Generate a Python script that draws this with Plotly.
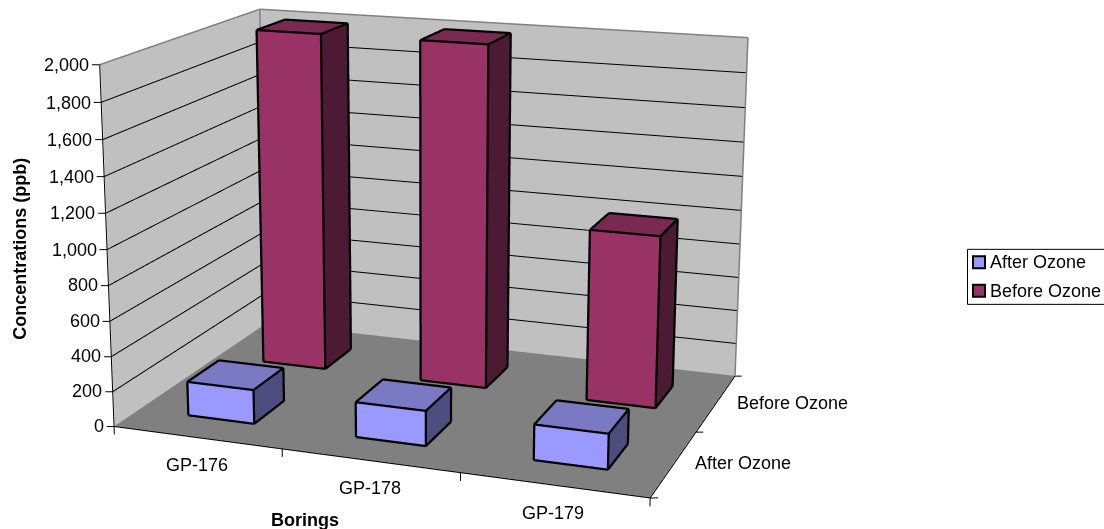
import numpy as np
import plotly.graph_objects as go

categories = ["GP-176", "GP-178", "GP-179"]
series = ["After Ozone", "Before Ozone"]
after_ozone = [195, 198, 197]
before_ozone = [1998, 1998, 995]
z_ticks = [0, 200, 400, 600, 800, 1000, 1200, 1400, 1600, 1800, 2000]
z_title = "Concentrations (ppb)"
x_title = "Borings"

FONT = "Liberation Sans"
FS = 18
W, H_S = 1104, 1741.5       # the scene is tall so that plotly's fixed 45 degree lens acts as a long lens
CX, CY = 434.9, 217.18      # where the scene centre has to land in the window
SHIFT = H_S / 2 - CY

colors = {
    series[0]: dict(front="#9999FF", top="#7A7AC4", side="#4D4D80"),
    series[1]: dict(front="#993366", top="#7A2952", side="#4D1A33"),
}
WALL, FLOOR, GREY = "#C0C0C0", "#808080", "#808080"

# scene ranges (a little wider than the plot box, so that the tick stubs are not clipped)
XR, YR, ZR = (-0.1, 3.2), (-0.1, 2.1), (-100, 2100)
BASE_ASPECT = np.array([1.5009, 1.0008, 1.0])
BASE_SPAN = np.array([3.0, 2.0, 2000.0])
BASE_MID = np.array([1.5, 1.0, 1000.0])
lo = np.array([XR[0], YR[0], ZR[0]]); hi = np.array([XR[1], YR[1], ZR[1]])
unit = BASE_ASPECT / BASE_SPAN
aspect = unit * (hi - lo)
off = (BASE_MID - (lo + hi) / 2) * unit
eye = np.array([1.9196, -5.298, 1.4879])
look = np.array([-70.5433, 194.5369, -53.3139]) - eye
look = look / np.linalg.norm(look)
up = np.array([-1.0505, 2.8935, 1.0])
right = np.cross(look, up); right /= np.linalg.norm(right)
up = np.cross(right, look)
center = eye + look * 6.0
# lines are pulled a hair toward the camera, along the view axis, so faces do not swallow them
NUDGE = -look * 0.012 / unit

fig = go.Figure()


def lines(segs, color, width):
    xs, ys, zs = [], [], []
    for a, b in segs:
        xs += [a[0] + NUDGE[0], b[0] + NUDGE[0], None]
        ys += [a[1] + NUDGE[1], b[1] + NUDGE[1], None]
        zs += [a[2] + NUDGE[2], b[2] + NUDGE[2], None]
    fig.add_trace(go.Scatter3d(x=xs, y=ys, z=zs, mode="lines", line=dict(color=color, width=width),
                               hoverinfo="skip", showlegend=False))


# walls and floor
fig.add_trace(go.Mesh3d(
    x=[0, 3, 3, 0, 0, 3, 3, 0], y=[0, 0, 2, 2, 0, 0, 2, 2], z=[0, 0, 0, 0, 2000, 2000, 2000, 2000],
    i=[0, 0, 0, 0, 3, 3], j=[1, 2, 3, 7, 2, 6], k=[2, 3, 7, 4, 6, 7],
    facecolor=[FLOOR, FLOOR, WALL, WALL, WALL, WALL], flatshading=True,
    lighting=dict(ambient=1, diffuse=0, specular=0, roughness=1, fresnel=0), hoverinfo="skip", showlegend=False))

grid = []
for v in z_ticks[1:-1]:
    grid += [((0, 0, v), (0, 2, v)), ((0, 2, v), (3, 2, v))]
lines(grid, "#000000", 2)
lines([((0, 0, 2000), (0, 2, 2000)), ((0, 2, 2000), (3, 2, 2000)), ((0, 2, 0), (0, 2, 2000)), ((3, 2, 0), (3, 2, 2000))], GREY, 3)

axis_segs = [((0, 0, 0), (0, 0, 2000)), ((0, 0, 0), (3, 0, 0)), ((3, 0, 0), (3, 2, 0))]
axis_segs += [((0, 0, v), (-0.037, -0.0143, v)) for v in z_ticks]
axis_segs += [((i, 0, 0), (i, 0, -45)) for i in range(4)]
axis_segs += [((3, j, 0), (3.037, j + 0.0143, 0)) for j in range(3)]
lines(axis_segs, "#000000", 2)

# bars
GAP = 0.3
for row, (name, values) in enumerate(zip(series, [after_ozone, before_ozone])):
    c = colors[name]
    vx, vy, vz, I, J, K, fc, segs = [], [], [], [], [], [], [], []
    for col, h in enumerate(values):
        x0, x1, y0, y1 = col + GAP, col + 1 - GAP, row + GAP, row + 1 - GAP
        n = len(vx)
        vx += [x0, x1, x1, x0, x0, x1, x1, x0]
        vy += [y0, y0, y1, y1, y0, y0, y1, y1]
        vz += [0, 0, 0, 0, h, h, h, h]
        quads = [((0, 1, 5, 4), c["front"]), ((4, 5, 6, 7), c["top"]), ((1, 2, 6, 5), c["side"])]
        for q, col_ in quads:
            I += [n + q[0], n + q[0]]; J += [n + q[1], n + q[2]]; K += [n + q[2], n + q[3]]; fc += [col_, col_]
        p = [(vx[n + t], vy[n + t], vz[n + t]) for t in range(8)]
        for a, b in [(0, 1), (1, 2), (4, 5), (5, 6), (6, 7), (7, 4), (0, 4), (1, 5), (2, 6)]:
            segs.append((p[a], p[b]))
    fig.add_trace(go.Mesh3d(x=vx, y=vy, z=vz, i=I, j=J, k=K, facecolor=fc, flatshading=True, name=name,
                            lighting=dict(ambient=1, diffuse=0, specular=0, roughness=1, fresnel=0),
                            hoverinfo="skip", showlegend=False))
    lines(segs, "#000000", 4.5)

font = dict(family=FONT, size=FS, color="#000000")
ann3d = []
for v in z_ticks:
    ann3d.append(dict(x=0, y=0, z=v, text=f"{v:,}", showarrow=False, xanchor="right", xshift=-9, font=font))
for i, t in enumerate(categories):
    ann3d.append(dict(x=i + 0.5, y=0, z=0, text=t, showarrow=False, xanchor="center", yshift=-28, font=font))
for j, t in enumerate(series):
    ann3d.append(dict(x=3, y=j + 0.5, z=0, text=t, showarrow=False, xanchor="left", xshift=20, font=font))


def px(x):
    return x / W


def py(y):
    return 1 - (y + SHIFT) / H_S


annotations = [
    dict(xref="paper", yref="paper", x=px(20), y=py(249), text=f"<b>{z_title}</b>", textangle=-90, showarrow=False,
         xanchor="center", yanchor="middle", font=font),
    dict(xref="paper", yref="paper", x=px(305), y=py(520), text=f"<b>{x_title}</b>", showarrow=False,
         xanchor="center", yanchor="middle", font=font),
]
shapes = [dict(type="rect", xref="paper", yref="paper", x0=px(967.5), x1=px(1106), y0=py(249.5), y1=py(304.5),
               line=dict(color="#000000", width=1), fillcolor="#FFFFFF", layer="above")]
for yc, name in zip((262.5, 291), series):
    shapes.append(dict(type="rect", xref="paper", yref="paper", x0=px(973), x1=px(985), y0=py(yc - 6), y1=py(yc + 6),
                       line=dict(color="#000000", width=2), fillcolor=colors[name]["front"], layer="above"))
    annotations.append(dict(xref="paper", yref="paper", x=px(987.5), y=py(yc), text=name, showarrow=False,
                            xanchor="left", yanchor="middle", font=font))

fig.update_layout(
    width=W, height=H_S, margin=dict(l=0, r=0, t=0, b=0, pad=0), autosize=False,
    paper_bgcolor="#FFFFFF", showlegend=False, shapes=shapes, annotations=annotations,
    scene=dict(
        domain=dict(x=[0, 2 * CX / W], y=[0, 1]), aspectmode="manual",
        aspectratio=dict(x=float(aspect[0]), y=float(aspect[1]), z=float(aspect[2])),
        xaxis=dict(range=list(XR), visible=False), yaxis=dict(range=list(YR), visible=False),
        zaxis=dict(range=list(ZR), visible=False), annotations=ann3d, bgcolor="rgba(0,0,0,0)",
        camera=dict(eye=dict(x=float(eye[0] + off[0]), y=float(eye[1] + off[1]), z=float(eye[2] + off[2])),
                    center=dict(x=float(center[0] + off[0]), y=float(center[1] + off[1]), z=float(center[2] + off[2])),
                    up=dict(x=float(up[0]), y=float(up[1]), z=float(up[2]))),
    ),
)

post = ("document.documentElement.style.overflow='hidden';document.body.style.overflow='hidden';"
        "document.body.style.margin='0';document.getElementById('{plot_id}').style.marginTop='%dpx';" % -round(SHIFT))
fig.write_html("out.html", post_script=post, config=dict(displayModeBar=False))
